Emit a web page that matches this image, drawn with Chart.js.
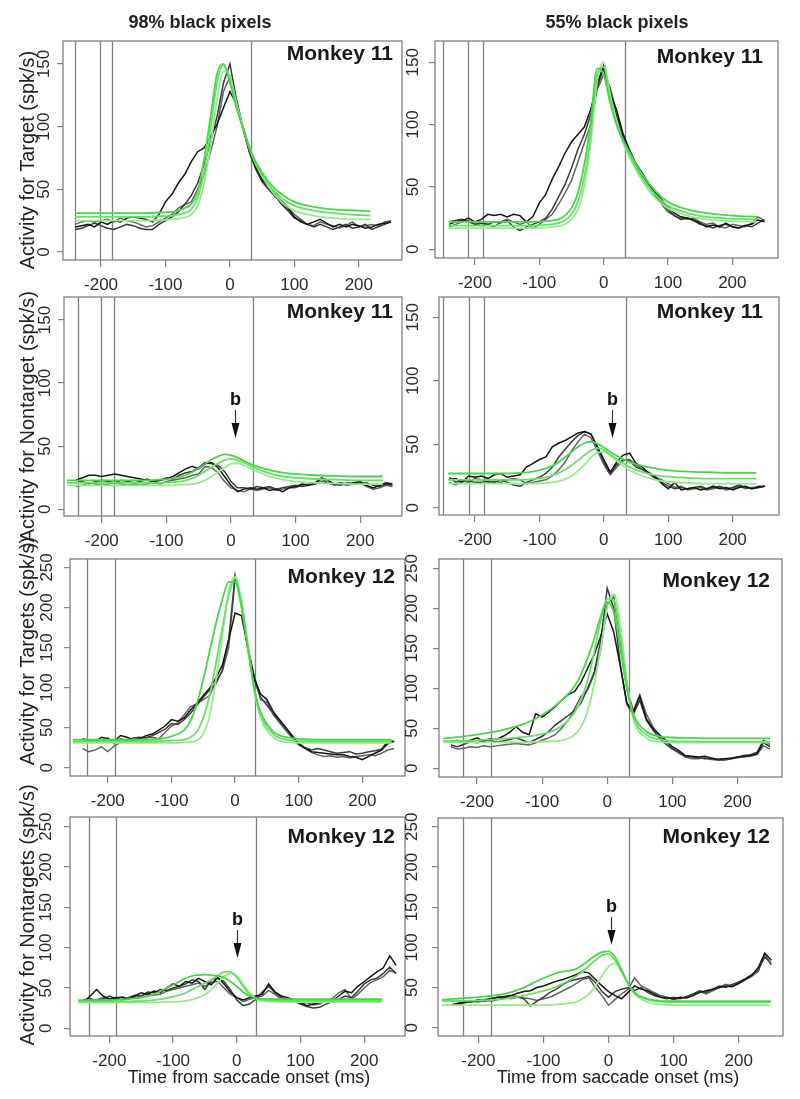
<!DOCTYPE html>
<html>
<head>
<meta charset="utf-8">
<script src="https://cdn.jsdelivr.net/npm/chart.js@4.4.1/dist/chart.umd.min.js"></script>
<style>
  body { margin: 0; background: #fff; width: 800px; height: 1099px; overflow: hidden; position: relative;
         font-family: "Liberation Sans", Arial, Helvetica, sans-serif; color: #222; }
  canvas { position: absolute; }
  .txt { position: absolute; white-space: nowrap; line-height: 1; transform: translate(-50%, -50%); }
  .hdr { font-weight: bold; font-size: 18px; }
  .xlab { font-size: 18px; }
  .ylab { font-size: 20px; transform: translate(-50%, -50%) rotate(-90deg); }
</style>
</head>
<body>
<script>
const FONT = '"Liberation Sans", Arial, Helvetica, sans-serif';

// time grid of the recorded (black) curves, ms
const BX = [-240,-230,-220,-210,-200,-190,-180,-170,-160,-150,
            -140,-130,-120,-110,-100,-90,-80,-70,-60,-50,
            -40,-30,-20,-10,0,10,20,30,40,50,
            60,70,80,90,100,110,120,130,140,150,
            160,170,180,190,200,210,220,230,240,250];
// inner time grid of the model (green) curves; each panel adds its own start and end
const GX = [-200,-160,-130,-110,-90,-80,-70,-60,-50,-40,-30,-20,-10,0,10,20,30,40,60,80,100,130,160,200];

const X_TICKS = [-200, -100, 0, 100, 200];
const Y_TICKS_150 = [0, 50, 100, 150];
const Y_TICKS_250 = [0, 50, 100, 150, 200, 250];

// ---- 98%, Monkey 11, target
const p11k1 = [20,21,22,20,24,22,25,24,27,28, 27,26,24,30,40,46,55,62,72,80, 83,92,102,115,128,118,100,82,68,58, 52,46,40,35,28,24,22,24,26,23, 20,22,20,22,21,19,20,22,23,24];
const p11k2 = [18,19,21,23,21,19,18,20,22,21, 19,18,18,22,25,28,32,38,45,55, 70,88,108,135,150,122,100,80,66,56, 50,45,38,33,27,25,22,20,22,20, 18,20,22,19,20,22,18,20,22,24];
const p11k3 = [22,24,25,24,25,26,24,27,25,24, 22,20,21,24,27,30,35,38,40,50, 62,80,100,128,140,120,98,80,67,57, 50,44,41,36,30,26,22,21,24,22, 21,19,21,24,20,21,22,21,24,25];
const p11g1 = [31,31,31,31,31.5,32,33,35,38,48,74,108,142,150,135,115,99,84,72,56,46,40,36,34,33,32.5];
const p11g2 = [28,28,28,28,28.5,29,30,31,34,43,64,98,135,149,138,117,100,84,71,54,43,37,33,31,29.5,29];
const p11g3 = [25,25,25,25,25.5,26,26.5,27.5,30,37,55,85,122,144,140,119,100,83,70,52,40,33,29,27,26,26];
const p11Lines = [-240, -202, -183, 32];

// ---- 55%, Monkey 11, target
const p12k1 = [20,22,23,25,22,24,28,27,28,26, 28,27,22,26,37,44,56,66,77,86, 92,98,112,133,147,125,112,93,80,69, 61,53,46,40,34,29,26,25,23.5,21, 18,19.5,18,21,18,17,19,20,23.5,22];
const p12k2 = [22,23,24,22,20,21,20,22,21,23, 18,15,18,20,22,25,32,42,52,65, 80,92,108,130,145,128,108,90,78,68, 60,52,45,38,32,27,24,25,23,20, 19,17,19,20,18,17,19,18,21,24];
const p12k3 = [18,20,22,23,20,19,20,18,22,24, 22,20,22,17,20,24,28,36,45,55, 70,85,100,128,140,130,110,92,78,67, 58,50,43,36,30,27,25,24,25,22, 20,21,18,17,20,19,18,21,26,23];
const p12g1 = [22,22,22,22,22,22.5,23,24,27,33,45,68,102,145,140,118,100,88,78,60,47,38,32,29,27,26];
const p12g2 = [19,19,19,19,19,19.5,20,21,23,28,38,58,92,140,146,122,101,87,76,57,44,35,29,26,24.5,24];
const p12g3 = [17,17,17,17,17,17.5,18,18.5,20,24,32,50,85,135,150,125,102,86,74,55,41,33,27,24,22.5,22];
const p12Lines = [-250, -210, -188, 34];

// ---- 98%, Monkey 11, nontarget
const p21k1 = [23,25,27,27,26,27,28,27,26,25, 24,23,22,23,24,26,29,32,34,32, 36,37,33,26,19,14,16,17,16,17, 15,16,14,17,18,20,19,21,25,23, 20,21,20,21,22,19,17,19,21,20];
const p21k2 = [21,22,20,22,23,22,21,23,22,21, 22,24,22,23,25,24,27,29,30,33, 37,36,35,30,22,17,17,16,18,17, 18,16,17,18,19,18,19,20,24,21, 20,19,21,20,20,21,19,18,20,19];
const p21k3 = [18,19,21,20,19,20,21,20,19,20, 19,20,21,20,22,23,24,25,27,28, 34,33,29,22,17,15,14,16,15,16, 17,15,16,17,17,19,20,20,22,21, 19,20,19,20,21,18,16,17,19,18];
const p21g1 = [23,23,23,23,23.5,24.5,25.5,27,29.5,32.5,36,39.5,42,43.5,43,41,38.5,36,34,31,29,28,27,26.5,26,26];
const p21g2 = [21,21,21,21,21,21.5,22,23,24.5,27,30,33.5,36.5,39,40,39,37,34.5,32,28.5,26,25,24,23.5,23,23];
const p21g3 = [19,19,19,19,19,19,19.5,19.5,20,21,23,26,29.5,33,36,36.5,35,32.5,30,26,23.5,22,21,20.5,20,20];
const p21Lines = [-237, -201, -181, 34];

// ---- 55%, Monkey 11, nontarget
const p22k1 = [22,23,20,25,24,25,23,26,27,24, 25,26,32,35,38,40,48,51,53,56, 59,60,58,48,38,28,36,41.5,43,35, 32,27,24.5,19,15,20,14,15,16,14, 15,17,15,16,14,16,17,15,16,17];
const p22k2 = [24,20,22,21,20,20,21,20,22,20, 18,17,20,22,24,27,32,40,46,52, 57,60,58,48,36,27,34,38,37,32, 30,27,23,20,17,15,16,15,16,17, 15,16,17,15,16,18,16,15,17,17];
const p22k3 = [20,18,21,20,23,22,20,21,20,22, 23,22,19,20,21,22,25,30,36,45, 52,58,55,45,34,26,32,37,38,34, 30,28,24,22,19,16,17,14,15,16, 14,15,16,14,15,17,15,16,16,17];
const p22g1 = [27,27,27,27.5,28.5,31,33,36,40,44,48,51,52,50.5,47.5,44,41,38.5,36,33,31,29.5,28.5,28,27.5,27.5];
const p22g2 = [22,22,22,22,22.5,24,25.5,27.5,30,33.5,37.5,41.5,45,47,45.5,42,38.5,35,32,28,25.5,24.5,23.5,23,23,23];
const p22g3 = [19,19,19,19,19,19.5,20,21,22.5,25,29,34,39.5,43.5,44,41,37,33,29.5,25,22,20.5,19.5,19,19,19];
const p22Lines = [-250, -209, -186, 34];

// ---- 98%, Monkey 12, targets
const p31k1 = [36,34,32,38,36,33,40,38,35,36, 40,42,47,52,60,58,62,72,80,90, 99,112,128,160,193,190,150,112,92,85, 70,60,50,40,30,24,20,19,18,17, 16,16,14,13,10,14,18,22,30,33];
const p31k2 = [34,33,35,32,37,30,36,34,37,38, 37,40,44,48,55,54,60,68,78,88, 97,105,122,160,240,205,148,110,88,78, 68,58,49,38,30,25,22,24,22,20, 18,19,20,17,18,20,21,23,33,33];
const p31k3 = [24,20,22,26,20,27,32,33,34,36, 38,38,36,44,52,56,66,76,80,85, 90,108,120,150,236,210,150,115,85,82, 66,56,46,37,28,24,19,16,14,15, 13,14,12,14,15,16,15,18,22,24];
const p31g1 = [35,35,35,35.5,37,42,47,58,80,110,145,180,210,232,232,200,150,100,70,45,38,36,35,35,35,35];
const p31g2 = [33,33,33,33,33.5,34,35,38,45,62,90,130,175,215,236,205,152,98,66,42,35,33.5,33,33,33,33];
const p31g3 = [31,31,31,31,31,31,31.5,32,34,42,65,110,165,220,238,208,155,98,63,38,32,31,31,31,31,31];
const p31Lines = [-232, -189, 31];

// ---- 55%, Monkey 12, targets
const p32k1 = [33,35,32,35,38,34,37,36,40,45, 52,45,42,68,64,70,77,85,92,96, 108,125,142,165,193,170,128,82,70,90, 62,50,42,35,27,22,16,15,14,15, 13,11,12,12,14,15,16,18,32,27];
const p32k2 = [29,27,30,33,32,34,35,33,34,36, 38,35,32,36,40,46,54,60,66,72, 82,100,120,160,225,200,130,80,67,85, 60,48,38,30,24,20,15,14,13,12, 12,11,12,13,14,16,17,20,35,30];
const p32k3 = [27,24,25,27,26,28,27,28,29,30, 31,30,29,32,35,38,42,50,60,75, 90,98,118,148,205,215,160,100,72,92, 68,52,41,33,25,19,14,12,12,13, 11,10,10,12,13,14,15,17,28,24];
const p32g1 = [37,42,48,55,62,72,78,85,93,103,118,138,162,190,208,195,150,100,68,46,40,38.5,38,37.5,37.5,37.5];
const p32g2 = [34,35,37,39,41,45,48,53,60,70,86,110,145,185,212,210,165,105,65,42,36,34,33.5,33,33,33];
const p32g3 = [32.5,32.5,32.5,32.5,33,33.5,34,35,37,42,52,72,105,150,200,218,180,110,62,38,33,32,32,32,32,32];
const p32Lines = [-221, -178, 34];

// ---- 98%, Monkey 12, nontargets
const p41k1 = [33,40,48,40,36,38,38,36,40,44, 42,46,44,50,55,52,58,56,62,58, 54,63,55,45,38,35,38,40,42,55, 45,40,38,35,32,28,30,32,35,34, 40,46,44,52,58,64,70,75,90,78];
const p41k2 = [35,37,34,36,40,37,35,38,41,40, 45,44,48,47,50,52,55,60,58,48, 60,62,58,48,35,28,30,36,45,52, 44,38,36,34,30,27,25,26,30,33, 36,40,38,46,55,60,62,68,76,68];
const p41k3 = [36,33,35,38,37,36,39,37,38,40, 43,41,42,46,48,50,52,54,56,52, 57,58,50,42,38,33,36,38,40,47, 42,36,35,33,30,32,29,30,34,37, 44,48,36,42,50,57,60,64,72,68];
const p41g1 = [35,35,37,42,50,58,62,65,66,66.5,66,65,63,58,52,45,40,37.5,36.5,36,36,36,36,36,36,36];
const p41g2 = [33,33,33.5,35,37.5,41,44,48,52,56,60,65,70,70,63,52,42,37,35,34,34,34,34,34,34,34];
const p41g3 = [32,32,32,32,32.5,33,34,35.5,38,42,48,56,64,68,65,55,44,37,34,33,32.5,32.5,32.5,32.5,32.5,32.5];
const p41Lines = [-232, -190, 30];

// ---- 55%, Monkey 12, nontargets
const p42k1 = [29,30,32,33,34,35,36,38,39,40, 43,45,46,50,52,55,58,60,63,66, 70,68,60,52,45,40,36,44,52,48, 46,42,38,37,36,38,37,40,44,46, 48,50,52,51,55,60,65,75,93,84];
const p42k2 = [28,31,33,32,35,33,36,38,37,40, 39,36,27,33,38,44,48,54,58,60, 62,64,56,45,38,45,48,50,46,50, 44,40,38,36,38,36,39,42,46,44, 48,52,50,54,57,61,66,72,88,80];
const p42k3 = [28,29,31,33,32,34,33,35,38,36, 38,37,36,34,36,38,42,46,50,55, 60,62,50,40,28,35,42,48,62,52, 48,44,40,38,35,37,38,42,45,42, 46,50,54,52,56,60,64,70,92,78];
const p42g1 = [35,38,42,50,58,65,68,70,71,73,78,84,90,94,95,88,72,55,44,36,33.5,33,33,33,33,33];
const p42g2 = [33,34,36,40,44,48,51,55,59,64,70,77,84,90,92,84,70,55,43,35,32.5,32,32,32,32,32];
const p42g3 = [28,28,28,28,28,28.5,29,29.5,30.5,32,36,42,52,65,76,80,70,55,42,32,29,28,28,28,28,28];
const p42Lines = [-224, -180, 32];

const BLACKS = ['#161616', '#3a3a3a', '#636363'];
const GREENS = ['#45d845', '#68e068', '#94ea8c'];

// box = [left, top, right, bottom] of the plotting frame on the page
const panels = [
  { box: [63, 41, 402, 260],   x: [-259, 267], y: [-6.4, 168.3], yt: Y_TICKS_150, gEnds: [-240, 218], black: [p11k1, p11k2, p11k3], green: [p11g1, p11g2, p11g3], lines: p11Lines, title: 'Monkey 11', tdx: 9,  tdy: 19, yoff: 19 },
  { box: [435, 41, 778, 258],  x: [-262, 271], y: [-7, 167],     yt: Y_TICKS_150, gEnds: [-241, 238], black: [p12k1, p12k2, p12k3], green: [p12g1, p12g2, p12g3], lines: p12Lines, title: 'Monkey 11', tdx: 15, tdy: 22, yoff: 22 },
  { box: [64, 297, 402, 516],  x: [-258.5, 264.7], y: [-5.3, 168.2], yt: Y_TICKS_150, gEnds: [-254, 235], black: [p21k1, p21k2, p21k3], green: [p21g1, p21g2, p21g3], lines: p21Lines, title: 'Monkey 11', tdx: 9,  tdy: 21, yoff: 19, arrow: { x: 6, tip: 56.5 } },
  { box: [439, 297, 779, 515], x: [-256, 272], y: [-5.7, 166],   yt: Y_TICKS_150, gEnds: [-242, 237], black: [p22k1, p22k2, p22k3], green: [p22g1, p22g2, p22g3], lines: p22Lines, title: 'Monkey 11', tdx: 16, tdy: 21, yoff: 26, arrow: { x: 12, tip: 55 } },
  { box: [70, 559, 405, 776],  x: [-259.4, 267], y: [-10.4, 260.5], yt: Y_TICKS_250, gEnds: [-255, 246], black: [p31k1, p31k2, p31k3], green: [p31g1, p31g2, p31g3], lines: p31Lines, title: 'Monkey 12', tdx: 10, tdy: 24, yoff: 23 },
  { box: [439, 559, 782, 777], x: [-258.4, 268.4], y: [-10.9, 261.6], yt: Y_TICKS_250, gEnds: [-252, 250], black: [p32k1, p32k2, p32k3], green: [p32g1, p32g2, p32g3], lines: p32Lines, title: 'Monkey 12', tdx: 12, tdy: 28, yoff: 27 },
  { box: [70, 817, 405, 1036], x: [-261.7, 264], y: [-9.6, 262],  yt: Y_TICKS_250, gEnds: [-249, 228], black: [p41k1, p41k2, p41k3], green: [p41g1, p41g2, p41g3], lines: p41Lines, title: 'Monkey 12', tdx: 10, tdy: 26, yoff: 24, arrow: { x: 0, tip: 87 } },
  { box: [438, 818, 783, 1036], x: [-262, 268], y: [-10.3, 261], yt: Y_TICKS_250, gEnds: [-256, 249], black: [p42k1, p42k2, p42k3], green: [p42g1, p42g2, p42g3], lines: p42Lines, title: 'Monkey 12', tdx: 13, tdy: 25, yoff: 26, arrow: { x: 3, tip: 103 } }
];

const AX_W = 60, AX_H = 45, PAD_T = 10, PAD_R = 10;

Chart.defaults.font.family = FONT;

function pts(xs, ys) {
  return ys.map((v, i) => ({ x: xs[i], y: v }));
}

function makeDecor(p) {
  return {
    id: 'decor',
    beforeDatasetsDraw(chart) {
      const { ctx, chartArea: a, scales: { x } } = chart;
      ctx.save();
      ctx.strokeStyle = '#808080';
      ctx.lineWidth = 1.3;
      p.lines.forEach((v) => {
        const px = Math.round(x.getPixelForValue(v)) + 0.5;
        ctx.beginPath();
        ctx.moveTo(px, a.top);
        ctx.lineTo(px, a.bottom);
        ctx.stroke();
      });
      ctx.restore();
    },
    afterDraw(chart) {
      const { ctx, chartArea: a, scales: { x, y } } = chart;
      ctx.save();
      ctx.strokeStyle = '#808080';
      ctx.lineWidth = 1.3;
      ctx.strokeRect(a.left, a.top, a.right - a.left, a.bottom - a.top);

      // R style y tick labels, turned parallel to the axis
      ctx.fillStyle = '#2a2a2a';
      ctx.font = '17px ' + FONT;
      ctx.textAlign = 'center';
      ctx.textBaseline = 'middle';
      y.ticks.forEach((t) => {
        ctx.save();
        ctx.translate(a.left - p.yoff, y.getPixelForValue(t.value));
        ctx.rotate(-Math.PI / 2);
        ctx.fillText(String(t.value), 0, 0);
        ctx.restore();
      });

      ctx.fillStyle = '#1a1a1a';
      ctx.font = 'bold 21px ' + FONT;
      ctx.textAlign = 'right';
      ctx.textBaseline = 'alphabetic';
      ctx.fillText(p.title, a.right - p.tdx, a.top + p.tdy);

      if (p.arrow) {
        const ax = Math.round(x.getPixelForValue(p.arrow.x)) + 0.5;
        const ty = y.getPixelForValue(p.arrow.tip);
        ctx.strokeStyle = '#333';
        ctx.lineWidth = 1.2;
        ctx.beginPath();
        ctx.moveTo(ax, ty - 28);
        ctx.lineTo(ax, ty - 13);
        ctx.stroke();
        ctx.fillStyle = '#111';
        ctx.beginPath();
        ctx.moveTo(ax - 4, ty - 15);
        ctx.lineTo(ax + 4, ty - 15);
        ctx.lineTo(ax, ty);
        ctx.closePath();
        ctx.fill();
        ctx.font = 'bold 18px ' + FONT;
        ctx.textAlign = 'center';
        ctx.fillText('b', ax, ty - 33);
      }
      ctx.restore();
    }
  };
}

panels.forEach((p) => {
  const [l, t, r, b] = p.box;
  const cv = document.createElement('canvas');
  cv.width = r - l + AX_W + PAD_R;
  cv.height = b - t + PAD_T + AX_H;
  cv.style.left = (l - AX_W) + 'px';
  cv.style.top = (t - PAD_T) + 'px';
  document.body.appendChild(cv);

  const gx = [p.gEnds[0], ...GX, p.gEnds[1]];
  const datasets = [];
  p.green.forEach((g, i) => datasets.push({
    data: pts(gx, g), borderColor: GREENS[i], borderWidth: 1.8,
    pointRadius: 0, cubicInterpolationMode: 'monotone', fill: false
  }));
  p.black.forEach((k, i) => datasets.push({
    data: pts(BX, k), borderColor: BLACKS[i], borderWidth: 1.5,
    pointRadius: 0, tension: 0, fill: false
  }));

  new Chart(cv, {
    type: 'line',
    data: { datasets },
    options: {
      responsive: false,
      animation: false,
      events: [],
      layout: { padding: { top: PAD_T, right: PAD_R, left: 0, bottom: 0 } },
      plugins: { legend: { display: false }, tooltip: { enabled: false } },
      scales: {
        x: {
          type: 'linear', min: p.x[0], max: p.x[1],
          afterBuildTicks: (s) => { s.ticks = X_TICKS.map((v) => ({ value: v })); },
          afterFit: (s) => { s.height = AX_H; },
          border: { display: false },
          grid: { drawOnChartArea: false, drawTicks: true, tickLength: 7, color: '#808080', lineWidth: 1.2 },
          ticks: { color: '#2a2a2a', font: { size: 17 }, padding: 8, maxRotation: 0, minRotation: 0, autoSkip: false }
        },
        y: {
          type: 'linear', min: p.y[0], max: p.y[1],
          afterBuildTicks: (s) => { s.ticks = p.yt.map((v) => ({ value: v })); },
          afterFit: (s) => { s.width = AX_W; },
          border: { display: false },
          grid: { drawOnChartArea: false, drawTicks: true, tickLength: 6, color: '#808080', lineWidth: 1.2 },
          ticks: { display: false }
        }
      }
    },
    plugins: [makeDecor(p)]
  });
});

// page texts
const texts = [
  { cls: 'hdr', text: '98% black pixels', x: 200, y: 22 },
  { cls: 'hdr', text: '55% black pixels', x: 617, y: 22 },
  { cls: 'ylab', text: 'Activity for Target (spk/s)', x: 27, y: 160 },
  { cls: 'ylab', text: ')Activity for Nontarget (spk/s)', x: 27, y: 420 },
  { cls: 'ylab', text: 'Activity  for Targets (spk/s)', x: 27, y: 651 },
  { cls: 'ylab', text: 'Activity  for Nontargets (spk/s)', x: 27, y: 915 },
  { cls: 'xlab', text: 'Time from saccade onset (ms)', x: 249, y: 1077 },
  { cls: 'xlab', text: 'Time from saccade onset (ms)', x: 618, y: 1077 }
];
texts.forEach((t) => {
  const d = document.createElement('div');
  d.className = 'txt ' + t.cls;
  d.textContent = t.text;
  d.style.left = t.x + 'px';
  d.style.top = t.y + 'px';
  document.body.appendChild(d);
});
</script>
</body>
</html>
